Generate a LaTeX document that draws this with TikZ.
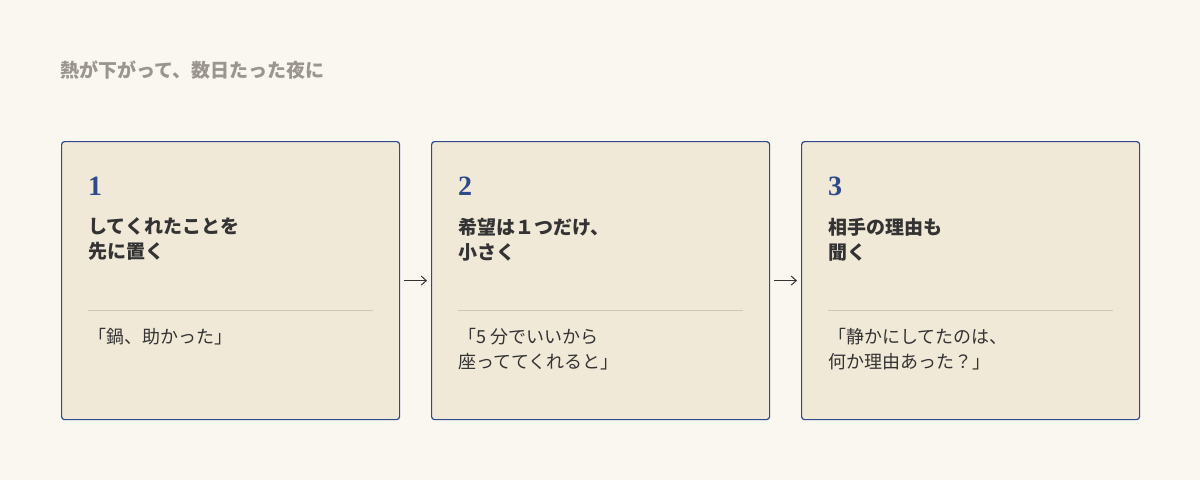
\documentclass[tikz,border=0pt]{standalone}
\usepackage{fontspec}
\setmainfont{Noto Sans CJK JP}
\newfontfamily\numfont{Liberation Serif}
\usetikzlibrary{positioning, arrows.meta}
\definecolor{bgcol}{HTML}{FAF6F0}
\definecolor{boxcol}{HTML}{F1E9D8}
\definecolor{navy}{HTML}{2E4A8A}
\definecolor{inkcol}{HTML}{333333}
\definecolor{greycol}{HTML}{9A968F}
\definecolor{rulecol}{HTML}{CFC6B6}
\tikzset{
    card/.style={rectangle, draw=navy, line width=1.2pt, fill=boxcol, rounded corners=3pt, minimum width=338pt, minimum height=278pt, anchor=north west},
    num/.style={font=\numfont\bfseries\fontsize{28}{28}\selectfont, text=navy, anchor=west, inner sep=0pt},
    head/.style={font=\bfseries\fontsize{19}{25}\selectfont, text=inkcol, align=left, anchor=north west, inner sep=0pt},
    quote/.style={font=\fontsize{18}{25}\selectfont, text=inkcol, align=left, anchor=north west, inner sep=0pt},
    divider/.style={draw=rulecol, line width=0.8pt},
    arrow/.style={-{Straight Barb[length=5pt,width=9pt]}, draw=inkcol, line width=1pt}
}
\begin{document}
\begin{tikzpicture}[x=1pt, y=-1pt]
    \fill[bgcol] (0,0) rectangle (1200,480);
    \useasboundingbox (0,0) rectangle (1200,480);
    % Title
    \node[anchor=west, inner sep=0pt, text=greycol, font=\bfseries\fontsize{19}{19}\selectfont] (Title) at (60,70) {熱が下がって、数日たった夜に};

    % Cards
    \node[card] (C1) at (61,141) {};
    \node[card] (C2) at (431,141) {};
    \node[card] (C3) at (801,141) {};

    \foreach \c/\n in {C1/1, C2/2, C3/3}{
        \node[num] (N\n) at ([xshift=27pt, yshift=-45pt]\c.north west) {\n};
        \draw[divider] ([xshift=27pt, yshift=-169pt]\c.north west) -- ([xshift=-27pt, yshift=-169pt]\c.north east);
    }

    \node[head] (H1) at ([yshift=-22pt]N1.south west) {してくれたことを\\先に置く};
    \node[head] (H2) at ([yshift=-22pt]N2.south west) {希望は１つだけ、\\小さく};
    \node[head] (H3) at ([yshift=-22pt]N3.south west) {相手の理由も\\聞く};

    \node[quote] (Q1) at ([xshift=27pt, yshift=-187pt]C1.north west) {「鍋、助かった」};
    \node[quote] (Q2) at ([xshift=27pt, yshift=-187pt]C2.north west) {「5 分でいいから\\座っててくれると」};
    \node[quote] (Q3) at ([xshift=27pt, yshift=-187pt]C3.north west) {「静かにしてたのは、\\何か理由あった？」};

    % Arrows
    \draw[arrow] ([xshift=4pt]C1.east) -- ([xshift=-4pt]C2.west);
    \draw[arrow] ([xshift=4pt]C2.east) -- ([xshift=-4pt]C3.west);
\end{tikzpicture}
\end{document}
